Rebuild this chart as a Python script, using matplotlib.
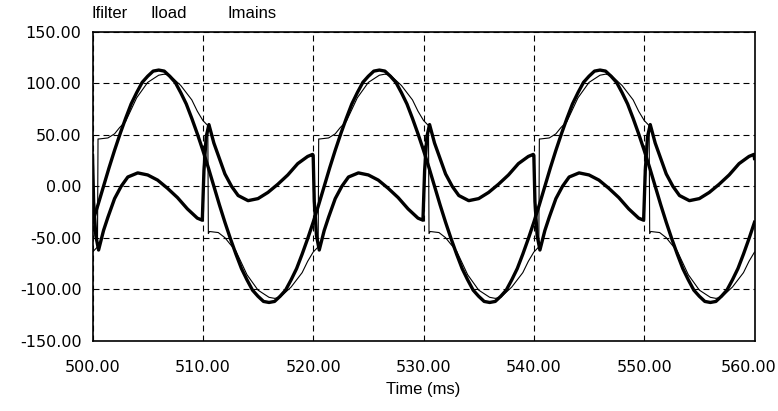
import numpy as np
import matplotlib
matplotlib.use("Agg")
import matplotlib.pyplot as plt
from matplotlib.transforms import ScaledTranslation

t_mains = np.arange(500, 560.01, 0.5)
i_mains = [-35, -18, 0, 18, 35, 51, 66, 80, 91, 101, 107, 112, 113, 112, 107, 101, 91, 80, 66, 51,
           35, 18, 0, -18, -35, -51, -66, -80, -91, -101, -107, -112, -113, -112, -107, -101, -91, -80, -66, -51,
           -35, -18, 0, 18, 35, 51, 66, 80, 91, 101, 107, 112, 113, 112, 107, 101, 91, 80, 66, 51,
           35, 18, 0, -18, -35, -51, -66, -80, -91, -101, -107, -112, -113, -112, -107, -101, -91, -80, -66, -51,
           -35, -18, 0, 18, 35, 51, 66, 80, 91, 101, 107, 112, 113, 112, 107, 101, 91, 80, 66, 51,
           35, 18, 0, -18, -35, -51, -66, -80, -91, -101, -107, -112, -113, -112, -107, -101, -91, -80, -66, -51,
           -35]

# load current (thin trace, with the switching steps)
t_load = [500, 500.45, 500.5, 500.6, 501.4, 502, 502.45, 503, 504, 505, 506, 506.5, 507, 508, 509, 509.5,
          510, 510.45, 510.5, 510.6, 511.4, 512, 512.45, 513, 514, 515, 516, 516.5, 517, 518, 519, 519.5,
          520, 520.45, 520.5, 520.6, 521.4, 522, 522.45, 523, 524, 525, 526, 526.5, 527, 528, 529, 529.5,
          530, 530.45, 530.5, 530.6, 531.4, 532, 532.45, 533, 534, 535, 536, 536.5, 537, 538, 539, 539.5,
          540, 540.45, 540.5, 540.6, 541.4, 542, 542.45, 543, 544, 545, 546, 546.5, 547, 548, 549, 549.5,
          550, 550.45, 550.5, 550.6, 551.4, 552, 552.45, 553, 554, 555, 556, 556.5, 557, 558, 559, 559.5,
          560]
i_load = [-64, -59, 46, 46, 47, 51, 57, 63, 86, 101, 108, 109, 108, 98, 84, 73,
          64, 59, -46, -44, -45, -50, -56, -63, -86, -101, -108, -109, -108, -98, -84, -73,
          -64, -59, 46, 46, 47, 51, 57, 63, 86, 101, 108, 109, 108, 98, 84, 73,
          64, 59, -46, -44, -45, -50, -56, -63, -86, -101, -108, -109, -108, -98, -84, -73,
          -64, -59, 46, 46, 47, 51, 57, 63, 86, 101, 108, 109, 108, 98, 84, 73,
          64, 59, -46, -44, -45, -50, -56, -63, -86, -101, -108, -109, -108, -98, -84, -73,
          -64]

# filter current (thick small trace)
t_filter = [500, 500.1, 500.3, 500.55, 501, 501.4, 502, 502.6, 503.2, 504.1, 505, 505.9, 506.8, 507.7, 508.6, 509.5, 509.95,
            510.1, 510.3, 510.55, 511, 511.4, 512, 512.6, 513.2, 514.1, 515, 515.9, 516.8, 517.7, 518.6, 519.5, 519.95,
            520, 520.1, 520.3, 520.55, 521, 521.4, 522, 522.6, 523.2, 524.1, 525, 525.9, 526.8, 527.7, 528.6, 529.5, 529.95,
            530.1, 530.3, 530.55, 531, 531.4, 532, 532.6, 533.2, 534.1, 535, 535.9, 536.8, 537.7, 538.6, 539.5, 539.95,
            540, 540.1, 540.3, 540.55, 541, 541.4, 542, 542.6, 543.2, 544.1, 545, 545.9, 546.8, 547.7, 548.6, 549.5, 549.95,
            550.1, 550.3, 550.55, 551, 551.4, 552, 552.6, 553.2, 554.1, 555, 555.9, 556.8, 557.7, 558.6, 559.5, 559.95,
            560]
i_filter = [30, -15, -48, -62, -43, -30, -12, 0, 9, 13, 11, 6, -2, -11, -22, -31, -33,
            15, 48, 60, 42, 30, 12, 0, -9, -14, -12, -6, 2, 11, 22, 29, 31,
            30, -15, -48, -62, -43, -30, -12, 0, 9, 13, 11, 6, -2, -11, -22, -31, -33,
            15, 48, 60, 42, 30, 12, 0, -9, -14, -12, -6, 2, 11, 22, 29, 31,
            30, -15, -48, -62, -43, -30, -12, 0, 9, 13, 11, 6, -2, -11, -22, -31, -33,
            15, 48, 60, 42, 30, 12, 0, -9, -14, -12, -6, 2, 11, 22, 29, 31,
            27]

x_ticks = [500, 510, 520, 530, 540, 550, 560]
y_ticks = [-150, -100, -50, 0, 50, 100, 150]
names = ["Ifilter", "Iload", "Imains"]

plt.rcParams['font.family'] = ['Liberation Sans', 'DejaVu Sans']
plt.rcParams['font.size'] = 12
plt.rcParams['lines.scale_dashes'] = False

fig = plt.figure(figsize=(7.78, 4.11), dpi=100)
ax = fig.add_axes([0.1189, 0.1715, 0.8509, 0.7506])

ax.plot(t_filter, i_filter, color='black', lw=2.4, solid_joinstyle='round')
ax.plot(t_load, i_load, color='black', lw=0.8)
ax.plot(t_mains, i_mains, color='black', lw=2.4, solid_joinstyle='round')

ax.set_xlim(500, 560)
ax.set_ylim(-150, 150)
ax.set_xticks(x_ticks)
ax.set_xticklabels(['%.2f' % v for v in x_ticks], family='DejaVu Sans', fontsize=11.5)
ax.set_yticks(y_ticks)
ax.set_yticklabels(['%.2f' % v for v in y_ticks], family='DejaVu Sans', fontsize=11.5)
ax.tick_params(axis='both', length=0)
ax.tick_params(axis='x', pad=14)
ax.tick_params(axis='y', pad=8)
# last time label sits pulled in from the figure edge
last = ax.get_xticklabels()[-1]
last.set_transform(last.get_transform() + ScaledTranslation(-6 / 100, 0, fig.dpi_scale_trans))

ax.grid(True, color='black', linestyle=(0, (4.3, 2.9)), linewidth=0.8)
for s in ax.spines.values():
    s.set_linewidth(1.2)
ax.set_xlabel('Time (ms)', labelpad=5)

# series names across the top
for name, x in zip(names, [0.118, 0.193, 0.293]):
    fig.text(x, 0.968, name, va='center', ha='left')

fig.savefig('out.png', dpi=100)
